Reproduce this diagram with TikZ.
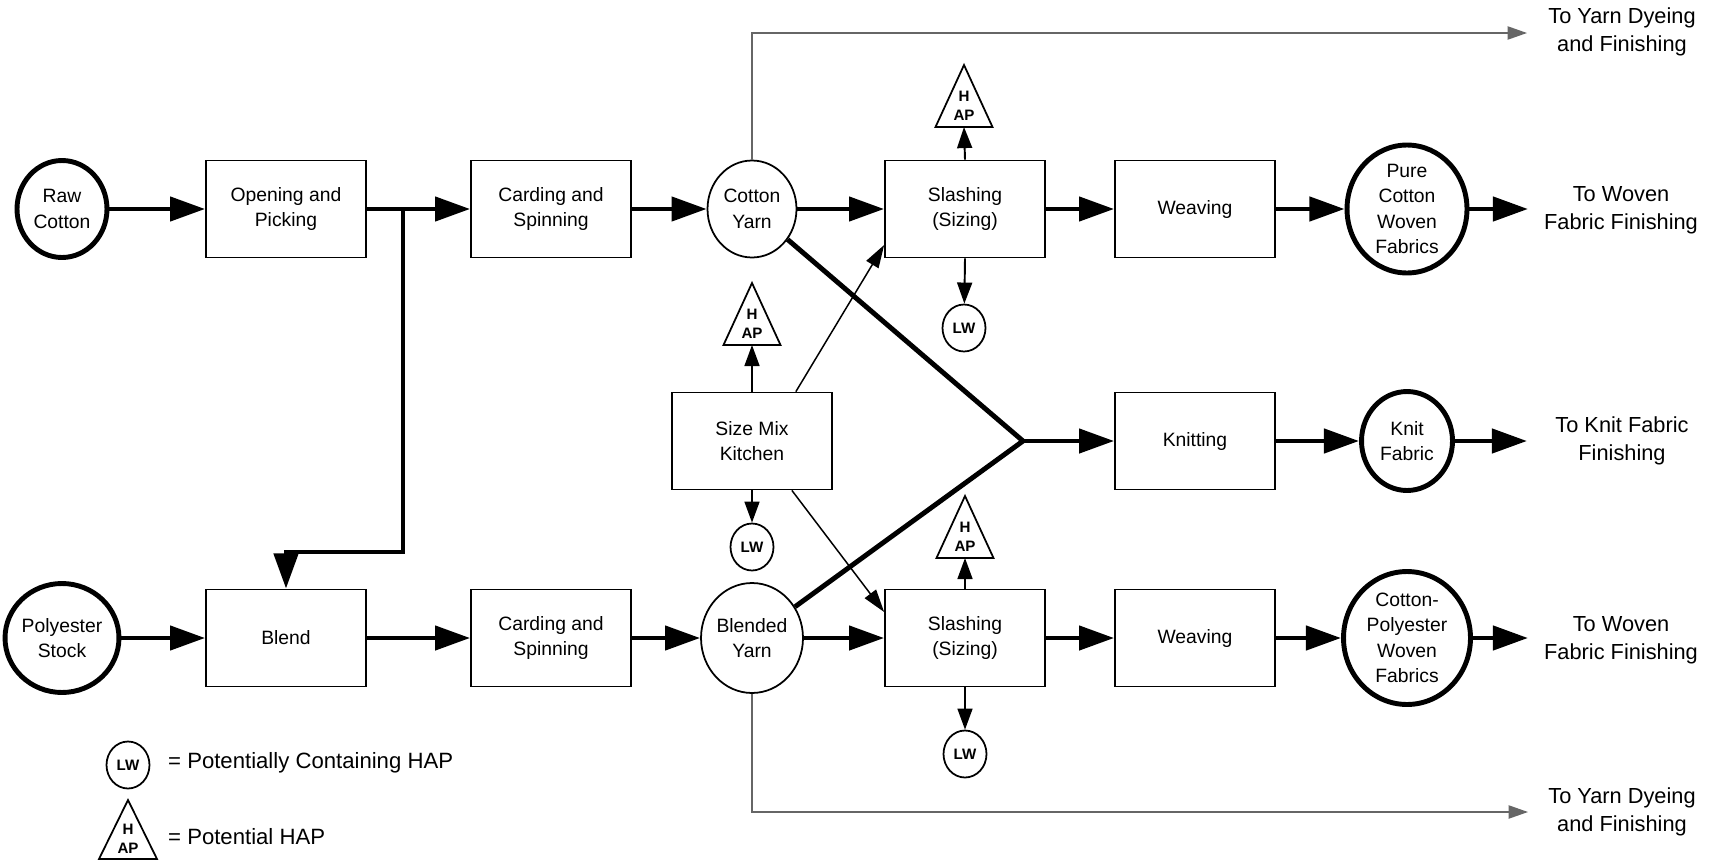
\documentclass[tikz,border=0pt]{standalone}
\usepackage{fontspec}
\setmainfont{Liberation Sans}
\usepackage{tikz}
\usetikzlibrary{arrows.meta,shapes.geometric}

\tikzset{
  procbox/.style={draw, line width=1pt, minimum width=3.2cm, minimum height=1.94cm,
    align=center, inner sep=0pt, font=\fontsize{11}{14.5}\selectfont},
  srcnode/.style={ellipse, draw, line width=2.8pt, align=center, inner sep=0pt,
    font=\fontsize{11}{14.5}\selectfont},
  yarnnode/.style={ellipse, draw, line width=1pt, align=center, inner sep=0pt,
    font=\fontsize{11}{14.5}\selectfont},
  lwnode/.style={ellipse, draw, line width=1pt, minimum width=0.86cm, minimum height=0.94cm,
    inner sep=0pt, font=\bfseries\fontsize{8.6}{10}\selectfont},
  haptext/.style={align=center, inner sep=0pt, font=\bfseries\fontsize{8.6}{10.8}\selectfont},
  haptri/.style={line width=1pt, line join=miter},
  outtext/.style={align=center, font=\fontsize{12.4}{16}\selectfont},
  legtext/.style={anchor=west, font=\fontsize{12.6}{15}\selectfont},
  flow/.style={line width=2.8pt, line join=miter, -{Triangle[length=20pt,width=13.6pt]}},
  midarrow/.style={line width=1.1pt, -{Triangle[length=12pt,width=8.5pt]}},
  feed/.style={line width=0.85pt, -{Triangle[length=13pt,width=8pt]}},
  bypass/.style={line width=0.8pt, black!60, -{Triangle[length=11pt,width=7.5pt]}},
  thickline/.style={line width=2.8pt},
}

\begin{document}
\begin{tikzpicture}[x=0.02cm,y=-0.02cm]
\useasboundingbox (0,0) rectangle (1717,862);

% cotton line
\node[srcnode, minimum width=1.8cm, minimum height=1.94cm] (raw) at (62,209) {Raw\\Cotton};
\node[procbox] (open) at (286,209) {Opening and\\Picking};
\node[procbox] (card1) at (551,209) {Carding and\\Spinning};
\node[yarnnode, minimum width=1.78cm, minimum height=1.94cm] (cyarn) at (752,209) {Cotton\\Yarn};
\node[procbox] (slash1) at (965,209) {Slashing\\(Sizing)};
\node[procbox] (weave1) at (1195,209) {Weaving};
\node[srcnode, minimum width=2.4cm, minimum height=2.56cm] (pure) at (1407,209) {Pure\\Cotton\\Woven\\Fabrics};
\node[outtext] (out1) at (1621,210) {To Woven\\Fabric Finishing};
\coordinate (end1) at (1528,209);

% knit line
\node[procbox] (smk) at (752,441) {Size Mix\\Kitchen};
\coordinate (jn) at (1023,441);
\node[procbox] (knit) at (1195,441) {Knitting};
\node[srcnode, minimum width=1.82cm, minimum height=1.98cm] (knitfab) at (1407,441) {Knit\\Fabric};
\node[outtext] (out3) at (1622,441) {To Knit Fabric\\Finishing};
\coordinate (end3) at (1527,441);

% polyester line
\node[srcnode, minimum width=2.06cm, minimum height=2.18cm] (poly) at (62,638) {Polyester\\Stock};
\node[procbox] (blend) at (286,638) {Blend};
\node[procbox] (card2) at (551,638) {Carding and\\Spinning};
\node[yarnnode, minimum width=2.04cm, minimum height=2.2cm] (byarn) at (752,638) {Blended\\Yarn};
\node[procbox] (slash2) at (965,638) {Slashing\\(Sizing)};
\node[procbox] (weave2) at (1195,638) {Weaving};
\node[srcnode, minimum width=2.54cm, minimum height=2.66cm] (cpoly) at (1407,638) {Cotton-\\Polyester\\Woven\\Fabrics};
\node[outtext] (out4) at (1621,640) {To Woven\\Fabric Finishing};
\coordinate (end4) at (1528,638);

% yarn dyeing
\node[outtext] (out0) at (1622,32) {To Yarn Dyeing\\and Finishing};
\node[outtext] (out5) at (1622,812) {To Yarn Dyeing\\and Finishing};
\coordinate (up0) at (752,33);
\coordinate (end0) at (1527,33);
\coordinate (dn5) at (752,812);
\coordinate (end5) at (1528,812);

% LW and HAP marks
\node[lwnode] (lw1) at (964,328) {LW};
\node[lwnode] (lw2) at (752,547) {LW};
\node[lwnode] (lw3) at (965,754) {LW};
\draw[haptri] (964,65) -- (992.5,127) -- (935.5,127) -- cycle;
\node[haptext] (hap1) at (964,106) {H\\AP};
\coordinate (hap1b) at (964,127);
\draw[haptri] (752,283) -- (780.5,345) -- (723.5,345) -- cycle;
\node[haptext] (hap2) at (752,324) {H\\AP};
\coordinate (hap2b) at (752,345);
\draw[haptri] (965,496) -- (993.5,558) -- (936.5,558) -- cycle;
\node[haptext] (hap3) at (965,537) {H\\AP};
\coordinate (hap3b) at (965,558);

% main flows
\draw[flow] (raw) -- (open);
\draw[flow] (open) -- (card1);
\draw[flow] (card1) -- (cyarn);
\draw[flow] (cyarn) -- (slash1);
\draw[flow] (slash1) -- (weave1);
\draw[flow] (weave1) -- (pure);
\draw[flow] (pure) -- (end1);
\draw[flow] (poly) -- (blend);
\draw[flow] (blend) -- (card2);
\draw[flow] (card2) -- (byarn);
\draw[flow] (byarn) -- (slash2);
\draw[flow] (slash2) -- (weave2);
\draw[flow] (weave2) -- (cpoly);
\draw[flow] (cpoly) -- (end4);
\draw[flow] (knit) -- (knitfab);
\draw[flow] (knitfab) -- (end3);

% branch to blend
\coordinate (br) at (403,209);
\coordinate (bk) at (403,552);
\draw[flow] (br) -- (bk) -| (blend.north);

% yarns to knitting
\draw[thickline] (cyarn) -- (jn);
\draw[thickline] (byarn) -- (jn);
\draw[flow] (jn) -- (knit);

% size mix feeds
\draw[feed] (smk.north east) ++(-37,0) coordinate (smk1) -- (slash1.south west |- 0,245);
\draw[feed] (smk.south east) ++(-41,0) coordinate (smk2) -- (slash2.north west |- 0,612);

% side streams
\draw[midarrow] (slash1.north) -- (hap1b);
\draw[midarrow] (slash1.south) -- (lw1);
\draw[midarrow] (smk.north) -- (hap2b);
\draw[midarrow] (smk.south) -- (lw2);
\draw[midarrow] (slash2.north) -- (hap3b);
\draw[midarrow] (slash2.south) -- (lw3);

% to yarn dyeing
\draw[bypass] (cyarn.north) -- (up0) -- (end0);
\draw[bypass] (byarn.south) -- (dn5) -- (end5);

% legend
\node[lwnode] (lw0) at (128,765) {LW};
\node[legtext] (leg1) at (162,763) {= Potentially Containing HAP};
\draw[haptri] (128,800) -- (157,859) -- (99,859) -- cycle;
\node[haptext] (hap0) at (128,839) {H\\AP};
\node[legtext] (leg2) at (162,837) {= Potential HAP};
\end{tikzpicture}
\end{document}
